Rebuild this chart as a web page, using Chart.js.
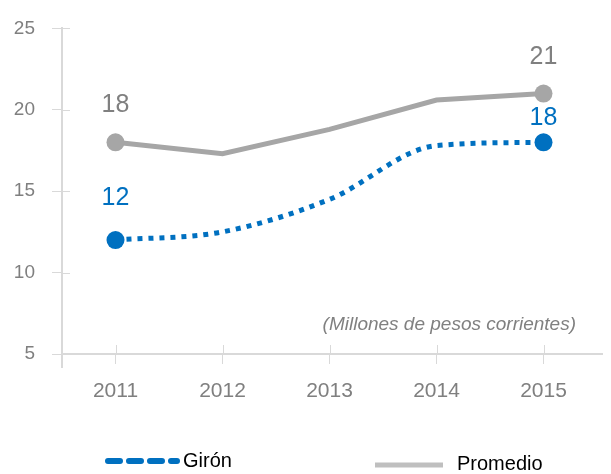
<!DOCTYPE html>
<html>
<head>
<meta charset="utf-8">
<style>
  html, body { margin: 0; padding: 0; background: #fff; }
  #wrap { width: 611px; height: 474px; }
</style>
<script src="https://cdn.jsdelivr.net/npm/chart.js@4.4.1/dist/chart.umd.min.js"></script>
</head>
<body>
<div id="wrap"><canvas id="ingresoChart" width="611" height="474"></canvas></div>
<script>
const years = ['2011', '2012', '2013', '2014', '2015'];
const gironValues = [12, 12.5, 14.5, 17.8, 18];
const promedioValues = [18, 17.3, 18.8, 20.6, 21];
const yTicks = [5, 10, 15, 20, 25];
const unitNote = '(Millones de pesos corrientes)';

const FONT = "'Arial Narrow', 'Liberation Sans', Arial, sans-serif";
const AXIS_GREY = '#d9d9d9';
const BLUE = '#0070C0';
const GREY = '#A6A6A6';

// short tick halves inside the plot and axis overhangs
const axisMarks = {
  id: 'axisMarks',
  afterDraw(chart) {
    const { ctx, chartArea: a, scales: { x, y } } = chart;
    ctx.save();
    ctx.strokeStyle = AXIS_GREY;
    ctx.lineWidth = 1;
    ctx.beginPath();
    yTicks.forEach(v => {
      const py = Math.round(y.getPixelForValue(v)) + 0.5;
      ctx.moveTo(a.left, py);
      ctx.lineTo(a.left + 8, py);
    });
    years.forEach((_, i) => {
      const px = Math.round(x.getPixelForValue(i)) + 0.5;
      ctx.moveTo(px, a.bottom - 9);
      ctx.lineTo(px, a.bottom);
    });
    ctx.stroke();
    ctx.lineWidth = 2;
    ctx.beginPath();
    ctx.moveTo(a.left, a.bottom);
    ctx.lineTo(a.left, a.bottom + 14);
    ctx.moveTo(a.right, a.bottom);
    ctx.lineTo(a.right + 6, a.bottom);
    ctx.stroke();
    ctx.restore();
  }
};

// values written above the first and last points
const endLabels = {
  id: 'endLabels',
  afterDatasetsDraw(chart) {
    const { ctx } = chart;
    ctx.save();
    ctx.font = `25px ${FONT}`;
    ctx.textAlign = 'center';
    ctx.textBaseline = 'middle';
    chart.data.datasets.forEach((ds, di) => {
      const meta = chart.getDatasetMeta(di);
      const last = ds.data.length - 1;
      [0, last].forEach((idx, k) => {
        const pt = meta.data[idx];
        ctx.fillStyle = ds.labelColor;
        ctx.fillText(String(ds.data[idx]), pt.x, pt.y - ds.labelLift[k]);
      });
    });
    ctx.restore();
  }
};

// unit note and the legend along the bottom
const notesAndLegend = {
  id: 'notesAndLegend',
  afterDraw(chart) {
    const { ctx, chartArea: a } = chart;
    ctx.save();
    ctx.font = `italic 19px ${FONT}`;
    ctx.fillStyle = '#808080';
    ctx.textAlign = 'right';
    ctx.textBaseline = 'middle';
    ctx.fillText(unitNote, a.right - 21, a.bottom - 29);

    // Girón: dashed blue
    ctx.strokeStyle = BLUE;
    ctx.lineWidth = 6;
    ctx.lineCap = 'round';
    ctx.setLineDash([12, 9]);
    ctx.beginPath();
    ctx.moveTo(108, 461);
    ctx.lineTo(177, 461);
    ctx.stroke();

    // Promedio: solid light grey
    ctx.setLineDash([]);
    ctx.lineCap = 'butt';
    ctx.strokeStyle = '#BFBFBF';
    ctx.lineWidth = 5;
    ctx.beginPath();
    ctx.moveTo(375, 465);
    ctx.lineTo(443, 465);
    ctx.stroke();

    ctx.font = `20px ${FONT}`;
    ctx.fillStyle = '#000';
    ctx.textAlign = 'left';
    ctx.fillText('Girón', 183, 461);
    ctx.fillText('Promedio', 457, 464);
    ctx.restore();
  }
};

const ctx = document.getElementById('ingresoChart').getContext('2d');

new Chart(ctx, {
  type: 'line',
  data: {
    labels: years,
    datasets: [
      {
        label: 'Girón',
        data: gironValues,
        borderColor: BLUE,
        backgroundColor: BLUE,
        borderWidth: 5,
        borderDash: [5, 6],
        cubicInterpolationMode: 'monotone',
        pointRadius: [9, 0, 0, 0, 9],
        pointBorderWidth: 0,
        pointBackgroundColor: BLUE,
        labelColor: BLUE,
        labelLift: [42, 24]
      },
      {
        label: 'Promedio',
        data: promedioValues,
        borderColor: GREY,
        backgroundColor: GREY,
        borderWidth: 5,
        tension: 0,
        pointRadius: [9, 0, 0, 0, 9],
        pointBorderWidth: 0,
        pointBackgroundColor: GREY,
        labelColor: '#808080',
        labelLift: [37, 36]
      }
    ]
  },
  options: {
    responsive: false,
    animation: false,
    layout: { padding: { top: 15, right: 14, left: 0, bottom: 0 } },
    plugins: {
      legend: { display: false },
      tooltip: { enabled: false }
    },
    scales: {
      x: {
        offset: true,
        grid: { drawOnChartArea: false, offset: false, color: AXIS_GREY, tickLength: 10 },
        border: { color: AXIS_GREY, width: 2 },
        ticks: { color: '#7f7f7f', font: { family: FONT, size: 21 }, padding: 15, maxRotation: 0 },
        afterFit: s => { s.height = 120; }
      },
      y: {
        min: 5,
        max: 25,
        afterBuildTicks: s => { s.ticks = yTicks.map(v => ({ value: v })); },
        grid: { drawOnChartArea: false, color: AXIS_GREY, tickLength: 10 },
        border: { color: AXIS_GREY, width: 2 },
        ticks: { color: '#7f7f7f', font: { family: FONT, size: 19 }, padding: 17 },
        afterFit: s => { s.width = 62; }
      }
    }
  },
  plugins: [axisMarks, endLabels, notesAndLegend]
});
</script>
</body>
</html>
